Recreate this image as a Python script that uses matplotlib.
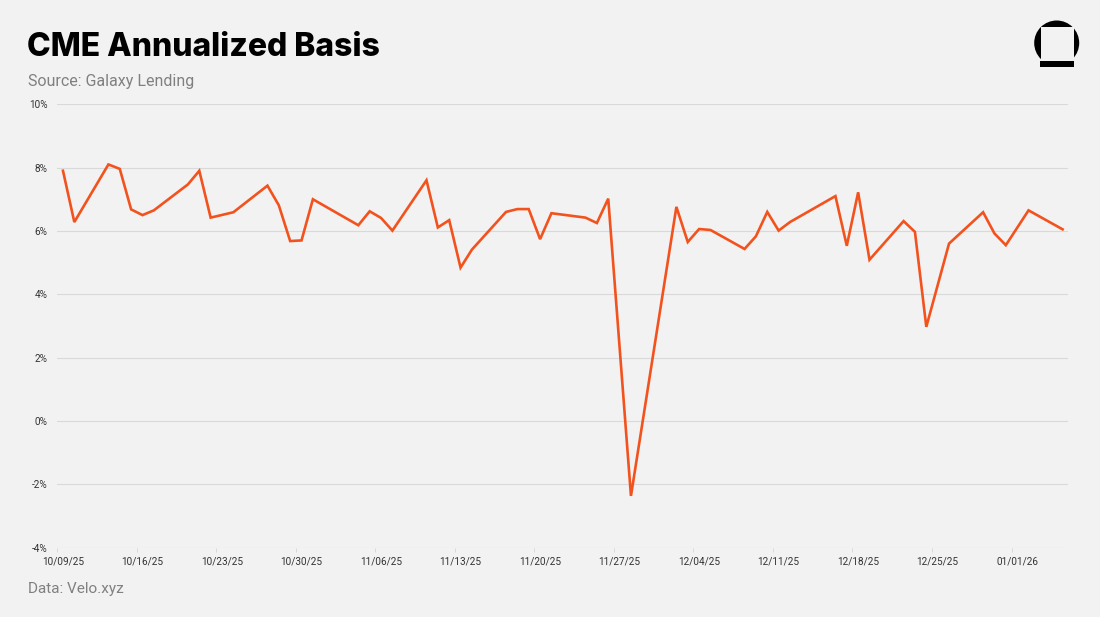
import matplotlib
matplotlib.use("Agg")
import matplotlib.pyplot as plt
import matplotlib.patches as mpatches
import pandas as pd

# ---- data ----
dates = [
    "2025-10-09", "2025-10-10", "2025-10-13", "2025-10-14", "2025-10-15", "2025-10-16",
    "2025-10-17", "2025-10-20", "2025-10-21", "2025-10-22", "2025-10-24", "2025-10-27",
    "2025-10-28", "2025-10-29", "2025-10-30", "2025-10-31", "2025-11-04", "2025-11-05",
    "2025-11-06", "2025-11-07", "2025-11-10", "2025-11-11", "2025-11-12", "2025-11-13",
    "2025-11-14", "2025-11-17", "2025-11-18", "2025-11-19", "2025-11-20", "2025-11-21",
    "2025-11-24", "2025-11-25", "2025-11-26", "2025-11-28", "2025-12-02", "2025-12-03",
    "2025-12-04", "2025-12-05", "2025-12-08", "2025-12-09", "2025-12-10", "2025-12-11",
    "2025-12-12", "2025-12-16", "2025-12-17", "2025-12-18", "2025-12-19", "2025-12-22",
    "2025-12-23", "2025-12-24", "2025-12-26", "2025-12-29", "2025-12-30", "2025-12-31",
    "2026-01-02", "2026-01-05",
]
basis = [
    7.90, 6.28, 8.10, 7.96, 6.68, 6.50,
    6.65, 7.47, 7.90, 6.42, 6.59, 7.43,
    6.81, 5.68, 5.70, 7.00, 6.18, 6.62,
    6.41, 6.01, 7.60, 6.11, 6.34, 4.84,
    5.41, 6.60, 6.69, 6.69, 5.74, 6.56,
    6.42, 6.25, 7.02, -2.37, 6.76, 5.65,
    6.06, 6.03, 5.43, 5.83, 6.60, 6.01,
    6.28, 7.10, 5.53, 7.22, 5.09, 6.31,
    5.97, 2.97, 5.60, 6.59, 5.92, 5.55,
    6.65, 6.05,
]
x_tick_dates = ["2025-10-09", "2025-10-16", "2025-10-23", "2025-10-30", "2025-11-06",
                "2025-11-13", "2025-11-20", "2025-11-27", "2025-12-04", "2025-12-11",
                "2025-12-18", "2025-12-25", "2026-01-01"]
y_ticks = [-4, -2, 0, 2, 4, 6, 8, 10]

title = "CME Annualized Basis"
subtitle = "Source: Galaxy Lending"
footer = "Data: Velo.xyz"

# ---- styling ----
BG = "#f2f2f2"
LINE = "#f2531e"
GRID = "#d9d9d9"
W, H = 1100, 617

plt.rcParams["font.family"] = ["Roboto", "DejaVu Sans"]

fig = plt.figure(figsize=(W / 100, H / 100), dpi=100, facecolor=BG)

start = pd.Timestamp(dates[0])
xd = [(pd.Timestamp(d) - start).days for d in dates]
xt = [(pd.Timestamp(d) - start).days for d in x_tick_dates]

left, right = 57.3 / W, 1068.3 / W
top, bottom = 1 - 104.3 / H, 1 - 547.5 / H
ax = fig.add_axes([left, bottom, right - left, top - bottom])
ax.set_facecolor(BG)

ax.plot(xd, basis, color=LINE, lw=1.9, solid_joinstyle="miter", zorder=3)

ax.set_ylim(-4, 10)
ax.set_xlim(-0.5, 88.5)
ax.set_yticks(y_ticks)
ax.set_yticklabels([f"{v}%" for v in y_ticks])
ax.set_xticks(xt)
ax.set_xticklabels([pd.Timestamp(d).strftime("%m/%d/%y") for d in x_tick_dates])
ax.set_xticks([t - 0.5 for t in xt], minor=True)

ax.grid(axis="y", color=GRID, lw=0.8, zorder=0)
for s in ax.spines.values():
    s.set_visible(False)
ax.tick_params(axis="y", length=0, pad=7, labelsize=7.2, labelcolor="#333333")
ax.tick_params(axis="x", which="major", length=0, pad=6.5, labelsize=7.2, labelcolor="#333333")
ax.tick_params(axis="x", which="minor", length=3, width=0.7, color=GRID)

# ---- texts ----
fig.text(27 / W, 1 - 56 / H, title, fontsize=23, fontweight="heavy",
         family=["Inter", "DejaVu Sans"], color="#000000", va="baseline", ha="left")
fig.text(28 / W, 1 - 86 / H, subtitle, fontsize=11.5, color="#808080",
         va="baseline", ha="left")
fig.text(28 / W, 1 - 593 / H, footer, fontsize=11, color="#808080",
         va="baseline", ha="left")

# ---- logo ----
ov = fig.add_axes([0, 0, 1, 1], facecolor="none")
ov.set_xlim(0, W)
ov.set_ylim(H, 0)
ov.axis("off")
ov.add_patch(mpatches.Circle((1056.7, 43.0), 22.5, color="black", lw=0))
ov.add_patch(mpatches.Rectangle((1040.7, 27.3), 33.3, 33.7, color=BG, lw=0))
ov.add_patch(mpatches.Rectangle((1040.0, 61.0), 34.0, 6.3, color="black", lw=0))

fig.savefig("out.png", dpi=100, facecolor=BG)
